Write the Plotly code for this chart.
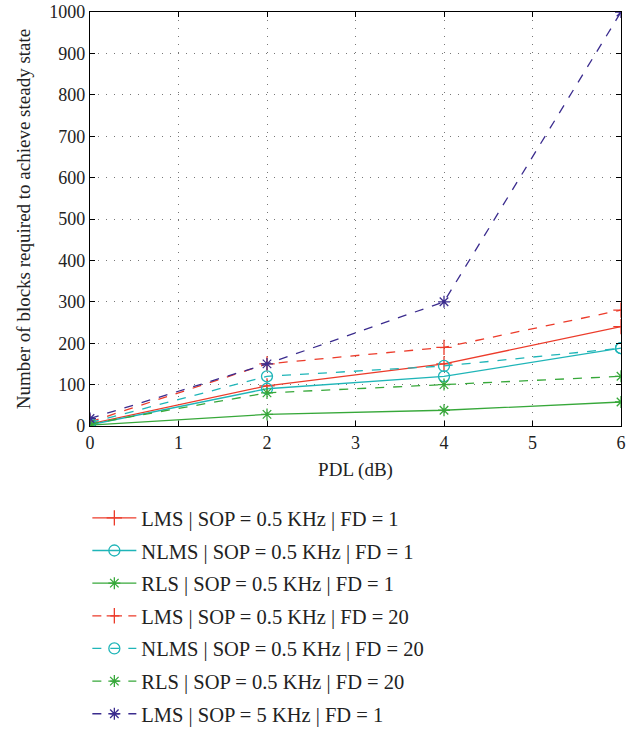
import plotly.graph_objects as go

pdl = [0, 2, 4, 6]
lms_fd1 = [5, 97, 150, 240]
nlms_fd1 = [3, 90, 120, 188]
rls_fd1 = [2, 28, 38, 58]
lms_fd20 = [10, 150, 190, 280]
nlms_fd20 = [8, 120, 145, 188]
rls_fd20 = [5, 80, 100, 120]
lms_sop5 = [18, 150, 300, 1000]

names = [
    "LMS | SOP = 0.5 KHz | FD = 1",
    "NLMS | SOP = 0.5 KHz | FD = 1",
    "RLS | SOP = 0.5 KHz | FD = 1",
    "LMS | SOP = 0.5 KHz | FD = 20",
    "NLMS | SOP = 0.5 KHz | FD = 20",
    "RLS | SOP = 0.5 KHz | FD = 20",
    "LMS | SOP = 5 KHz | FD = 1",
]
series = [lms_fd1, nlms_fd1, rls_fd1, lms_fd20, nlms_fd20, rls_fd20, lms_sop5]
colors = ["#ec3b2a", "#1fb5b8", "#37a83a", "#ec3b2a", "#1fb5b8", "#37a83a", "#3b2c8e"]
dashes = ["solid", "solid", "solid", "dash", "dash", "dash", "dash"]
symbols = ["cross-thin-open", "circle-open", "asterisk-open",
           "cross-thin-open", "circle-open", "asterisk-open", "asterisk-open"]
sizes = [11, 11, 10, 11, 11, 10, 10]

fig = go.Figure()
for i, (nm, ys) in enumerate(zip(names, series)):
    fig.add_trace(go.Scatter(
        x=pdl, y=ys, name=nm, mode="lines+markers",
        line=dict(color=colors[i], width=1.3, dash=dashes[i]),
        marker=dict(symbol=symbols[i], size=sizes[i], color=colors[i],
                    line=dict(color=colors[i], width=1.3)),
        legendgroup=str(i),
    ))

font_family = "Liberation Serif, DejaVu Serif, serif"
axis_common = dict(
    showline=True, linecolor="black", linewidth=1.2, mirror="ticks",
    ticks="inside", ticklen=5, tickcolor="black",
    showgrid=True, gridcolor="#777777", griddash="1px,7px", gridwidth=1,
    zeroline=False, tickfont=dict(size=18, color="#222", family=font_family),
)
fig.update_xaxes(range=[0, 6], dtick=1, title=dict(text="PDL (dB)", font=dict(size=19, color="#222", family=font_family), standoff=10), **axis_common)
fig.update_yaxes(range=[0, 1000], dtick=100, title=dict(text="Number of blocks required to achieve steady state", font=dict(size=19, color="#222", family=font_family), standoff=13), **axis_common)

fig.update_layout(
    width=639, height=729,
    margin=dict(l=90, r=18, t=12, b=303, autoexpand=False),
    plot_bgcolor="white", paper_bgcolor="white",
    font=dict(family=font_family, color="#222"),
    legend=dict(
        x=-0.005, y=-0.174, xanchor="left", yanchor="top",
        font=dict(size=20.5, family=font_family, color="#222"),
        tracegroupgap=3, traceorder="grouped", itemwidth=44,
        bgcolor="rgba(0,0,0,0)",
    ),
)

fig.write_html("out.html")
